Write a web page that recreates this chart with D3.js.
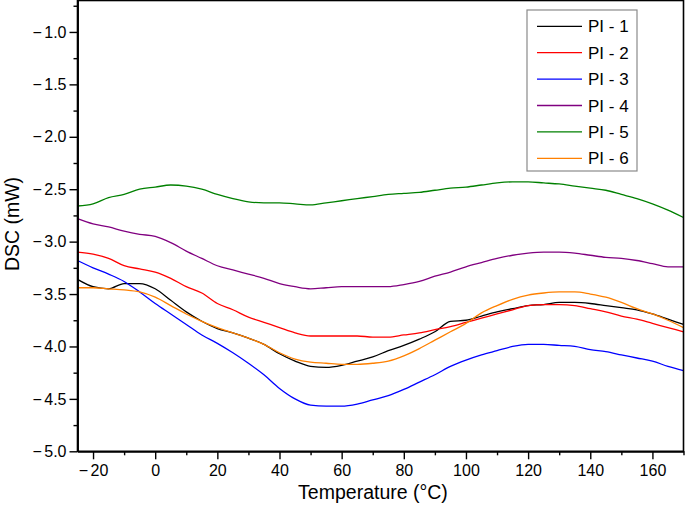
<!DOCTYPE html>
<html><head><meta charset="utf-8">
<script src="https://cdn.jsdelivr.net/npm/d3@7"></script>
<style>
html,body{margin:0;padding:0;background:#fff;}
svg{display:block;font-family:"Liberation Sans",Arial,sans-serif;}
</style></head>
<body><svg id="c" width="685" height="508"></svg>
<script>
const temps = [-25,-20,-15,-10,-5,0,5,10,15,20,25,30,35,40,45,50,55,60,65,70,75,80,85,90,95,100,105,110,115,120,125,130,135,140,145,150,155,160,165,170];
const pi1 = [-3.36,-3.43,-3.45,-3.40,-3.40,-3.45,-3.56,-3.67,-3.76,-3.83,-3.87,-3.92,-3.98,-4.07,-4.14,-4.19,-4.20,-4.18,-4.14,-4.10,-4.04,-3.99,-3.93,-3.86,-3.76,-3.75,-3.71,-3.67,-3.64,-3.61,-3.60,-3.58,-3.58,-3.59,-3.61,-3.63,-3.65,-3.69,-3.74,-3.79];
const pi2 = [-3.10,-3.12,-3.16,-3.23,-3.26,-3.29,-3.35,-3.43,-3.49,-3.59,-3.65,-3.72,-3.77,-3.82,-3.87,-3.90,-3.90,-3.90,-3.90,-3.91,-3.91,-3.89,-3.87,-3.84,-3.81,-3.77,-3.73,-3.69,-3.65,-3.61,-3.60,-3.60,-3.61,-3.64,-3.67,-3.71,-3.74,-3.78,-3.82,-3.86];
const pi3 = [-3.18,-3.25,-3.31,-3.38,-3.48,-3.59,-3.69,-3.79,-3.89,-3.97,-4.06,-4.16,-4.27,-4.40,-4.50,-4.56,-4.57,-4.57,-4.55,-4.51,-4.47,-4.41,-4.34,-4.27,-4.19,-4.13,-4.08,-4.04,-4.00,-3.98,-3.98,-3.99,-4.00,-4.03,-4.05,-4.08,-4.11,-4.14,-4.19,-4.23];
const pi4 = [-2.78,-2.83,-2.86,-2.90,-2.93,-2.95,-3.01,-3.09,-3.16,-3.23,-3.27,-3.31,-3.35,-3.40,-3.43,-3.45,-3.44,-3.43,-3.43,-3.43,-3.43,-3.41,-3.38,-3.33,-3.29,-3.24,-3.20,-3.16,-3.13,-3.11,-3.10,-3.10,-3.11,-3.13,-3.15,-3.16,-3.18,-3.21,-3.24,-3.24];
const pi5 = [-2.66,-2.64,-2.58,-2.55,-2.50,-2.48,-2.46,-2.47,-2.50,-2.55,-2.59,-2.62,-2.63,-2.63,-2.64,-2.65,-2.63,-2.61,-2.59,-2.57,-2.55,-2.54,-2.53,-2.51,-2.49,-2.48,-2.46,-2.44,-2.43,-2.43,-2.44,-2.45,-2.47,-2.49,-2.51,-2.55,-2.59,-2.64,-2.70,-2.77];
const pi6 = [-3.44,-3.44,-3.45,-3.46,-3.48,-3.53,-3.61,-3.69,-3.76,-3.82,-3.87,-3.92,-3.98,-4.06,-4.12,-4.15,-4.16,-4.17,-4.17,-4.16,-4.14,-4.09,-4.02,-3.94,-3.86,-3.78,-3.68,-3.61,-3.55,-3.51,-3.49,-3.48,-3.48,-3.50,-3.53,-3.58,-3.64,-3.69,-3.75,-3.82];
const seriesNames = ["PI - 1","PI - 2","PI - 3","PI - 4","PI - 5","PI - 6"];
const seriesColors = ["#000000","#ff0000","#0000ff","#800080","#008000","#ff8000"];
const seriesValues = [pi1,pi2,pi3,pi4,pi5,pi6];
const xTicks = [-20,0,20,40,60,80,100,120,140,160];
const xMinor = [-10,10,30,50,70,90,110,130,150,170];
const yTicks = [-5.0,-4.5,-4.0,-3.5,-3.0,-2.5,-2.0,-1.5,-1.0];
const yMinor = [-4.75,-4.25,-3.75,-3.25,-2.75,-2.25,-1.75,-1.25,-0.75];

const svg = d3.select("#c");
const L = 77.5, R = 683.5, T = 0.5, B = 451.3;
const x = d3.scaleLinear().domain([-25,170]).range([L,R]);
const y = d3.scaleLinear().domain([-5,-0.7]).range([B,T]);

svg.append("defs").append("clipPath").attr("id","clip")
  .append("rect").attr("x",L).attr("y",T).attr("width",R-L).attr("height",B-T);

const line = d3.line().x((d,i)=>x(temps[i])).y(d=>y(d)).curve(d3.curveMonotoneX);
const g = svg.append("g").attr("clip-path","url(#clip)");
seriesValues.forEach((vals,k)=>{
  g.append("path").attr("d",line(vals)).attr("fill","none")
   .attr("stroke",seriesColors[k]).attr("stroke-width",1.3);
});

svg.append("rect").attr("x",L).attr("y",T).attr("width",R-L).attr("height",B-T)
  .attr("fill","none").attr("stroke","#000").attr("stroke-width",1.6);

const fmtY = d3.format(".1f");
const fmtX = d3.format("d");
const xAxis = d3.axisBottom(x).tickValues(xTicks).tickSize(8).tickSizeOuter(0).tickPadding(5).tickFormat(fmtX);
const gx = svg.append("g").attr("transform",`translate(0,${B})`).call(xAxis);
const gxm = svg.append("g").attr("transform",`translate(0,${B})`).call(d3.axisBottom(x).tickValues(xMinor).tickSize(4).tickSizeOuter(0).tickFormat(""));
const yAxis = d3.axisLeft(y).tickValues(yTicks).tickSize(8).tickSizeOuter(0).tickPadding(3).tickFormat(fmtY);
const gy = svg.append("g").attr("transform",`translate(${L},0)`).call(yAxis);
const gym = svg.append("g").attr("transform",`translate(${L},0)`).call(d3.axisLeft(y).tickValues(yMinor).tickSize(4).tickSizeOuter(0).tickFormat(""));
[gx,gxm,gy,gym].forEach(a=>{
  a.select(".domain").attr("stroke","#000").attr("stroke-width",1.6);
  a.selectAll(".tick line").attr("stroke","#000").attr("stroke-width",1.4);
  a.selectAll("text").attr("font-size",16).attr("fill","#000").attr("font-family","'Liberation Sans',Arial,sans-serif");
});
// wide minus sign with a small gap, as in the reference
[gx,gy].forEach(a=>{
  a.selectAll(".tick text").each(function(){
    const t = d3.select(this);
    const s = t.text();
    if (s.startsWith("\u2212")) {
      t.text("");
      t.append("tspan").attr("font-size",16).attr("transform","").text("\u2212").attr("style","font-size:16px");
      t.append("tspan").attr("dx",2.5).text(s.slice(1));
    }
  });
});

svg.append("text").attr("x",373).attr("y",499).attr("text-anchor","middle")
  .attr("font-size",19.5).attr("fill","#000").text("Temperature (°C)");
svg.append("text").attr("transform","translate(19,224) rotate(-90)").attr("text-anchor","middle")
  .attr("font-size",19.5).attr("fill","#000").text("DSC (mW)");

const lg = svg.append("g");
lg.append("rect").attr("x",527).attr("y",10).attr("width",110).attr("height",161)
  .attr("fill","#fff").attr("stroke","#8a8a8a").attr("stroke-width",1.2);
seriesNames.forEach((n,k)=>{
  const yy = 26.3 + k*26.4;
  lg.append("line").attr("x1",537).attr("x2",582).attr("y1",yy).attr("y2",yy)
    .attr("stroke",seriesColors[k]).attr("stroke-width",1.3);
  lg.append("text").attr("x",588).attr("y",yy+6).attr("font-size",17).attr("fill","#000").text(n);
});
</script></body></html>
